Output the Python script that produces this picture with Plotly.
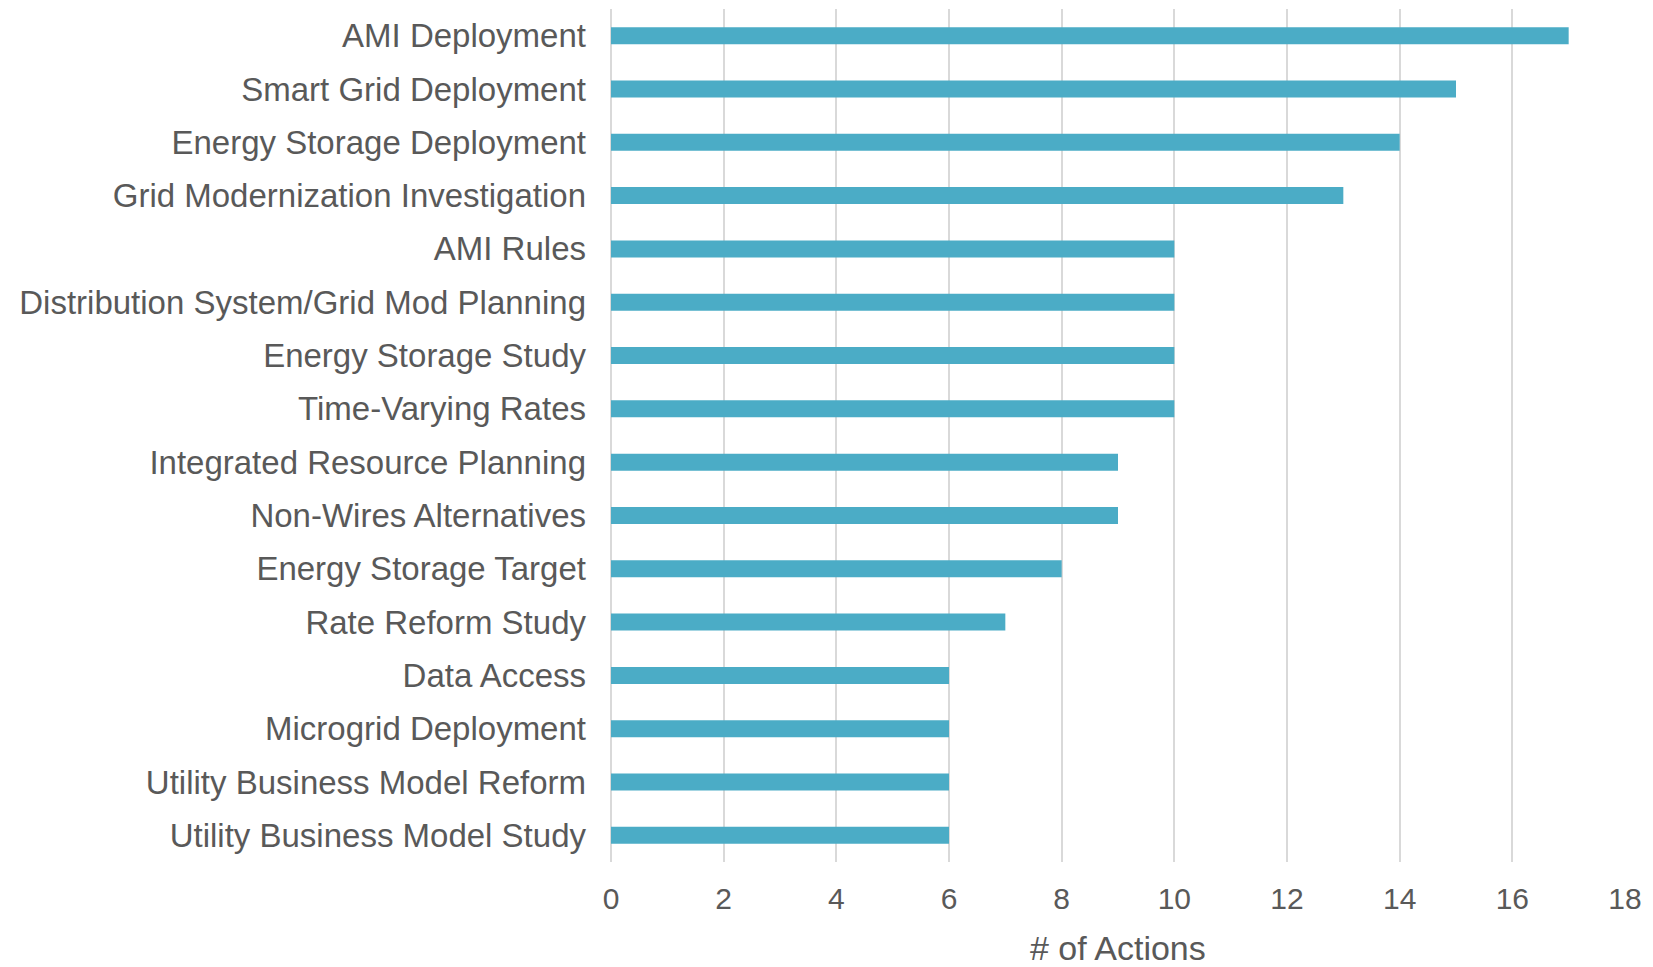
import plotly.graph_objects as go

categories = [
    "AMI Deployment",
    "Smart Grid Deployment",
    "Energy Storage Deployment",
    "Grid Modernization Investigation",
    "AMI Rules",
    "Distribution System/Grid Mod Planning",
    "Energy Storage Study",
    "Time-Varying Rates",
    "Integrated Resource Planning",
    "Non-Wires Alternatives",
    "Energy Storage Target",
    "Rate Reform Study",
    "Data Access",
    "Microgrid Deployment",
    "Utility Business Model Reform",
    "Utility Business Model Study",
]
actions = [17, 15, 14, 13, 10, 10, 10, 10, 9, 9, 8, 7, 6, 6, 6, 6]
x_ticks = [0, 2, 4, 6, 8, 10, 12, 14, 16, 18]
x_title = "# of Actions"

font_family = "Liberation Sans, Arial, sans-serif"
text_color = "#595959"
grid_color = "#D9D9D9"

fig = go.Figure(
    go.Bar(
        x=actions,
        y=categories,
        orientation="h",
        marker=dict(color="#4BACC6", line=dict(width=0)),
    )
)

fig.update_layout(
    width=1653,
    height=967,
    plot_bgcolor="white",
    paper_bgcolor="white",
    margin=dict(l=611, r=28, t=9, b=105),
    bargap=0.68,
    showlegend=False,
    font=dict(family=font_family, color=text_color, size=33),
)

fig.update_xaxes(
    range=[0, 18],
    tickvals=x_ticks,
    showgrid=True,
    gridcolor=grid_color,
    gridwidth=1.5,
    zeroline=True,
    zerolinecolor=grid_color,
    zerolinewidth=1.5,
    showline=False,
    automargin=False,
    ticklabelstandoff=16,
    tickfont=dict(size=30, color=text_color),
)

fig.update_yaxes(
    categoryorder="array",
    categoryarray=categories[::-1],
    showgrid=False,
    zeroline=False,
    showline=False,
    automargin=False,
    ticklabelstandoff=24,
    tickfont=dict(size=33, color=text_color),
)

# axis title placed as an annotation so its distance below the ticks is exact
fig.add_annotation(
    text=x_title,
    xref="paper", yref="paper",
    x=0.5, y=0,
    xanchor="center", yanchor="middle",
    yshift=-86,
    showarrow=False,
    font=dict(size=34, color=text_color),
)

# drop the browser's default body margin so the figure sits at the page origin
fig.write_html(
    "out.html",
    config={"displayModeBar": False},
    post_script="document.body.style.margin='0';",
)
